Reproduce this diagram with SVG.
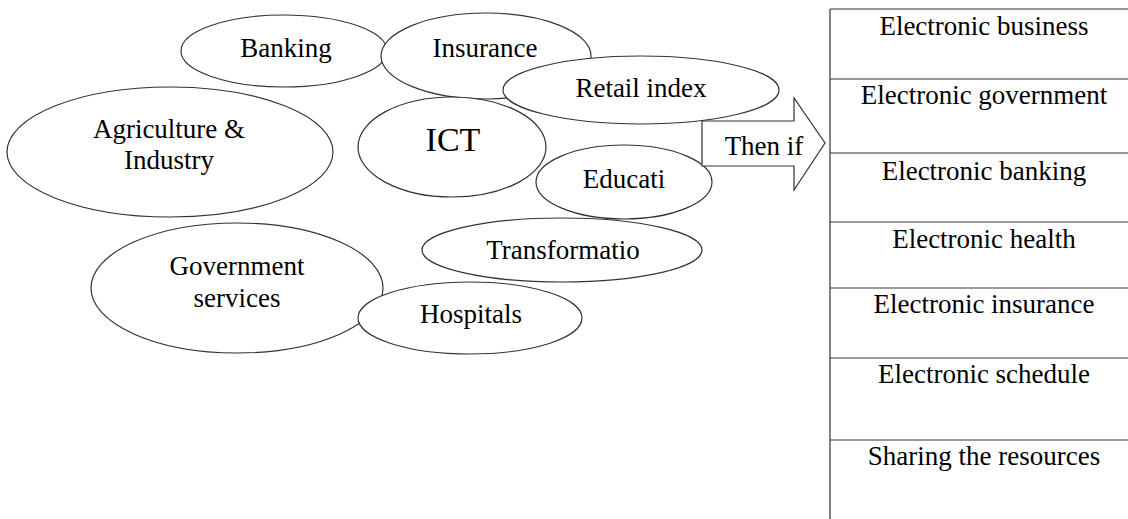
<svg xmlns="http://www.w3.org/2000/svg" width="1128" height="519" viewBox="0 0 1128 519">
<style>
.n{fill:#fff;stroke:#333;stroke-width:1.2}
.t{font-family:'Liberation Serif','Times New Roman',serif;font-size:27px;fill:#000;text-anchor:middle}
.big{font-size:34px}
.l{stroke:#333;stroke-width:1.2;fill:none}
</style>
<rect width="1128" height="519" fill="#fff"/>
<g id="banking"><ellipse class="n" cx="284" cy="51" rx="103" ry="36"/><text class="t" x="286" y="57">Banking</text></g>
<g id="insurance"><ellipse class="n" cx="486" cy="56" rx="105" ry="43"/><text class="t" x="485" y="57">Insurance</text></g>
<g id="retail"><ellipse class="n" cx="641" cy="90" rx="138" ry="34"/><text class="t" x="641" y="97">Retail index</text></g>
<g id="agriculture"><ellipse class="n" cx="170" cy="152" rx="163" ry="65"/><text class="t" x="169" y="138">Agriculture &amp;</text><text class="t" x="169" y="169">Industry</text></g>
<g id="ict"><ellipse class="n" cx="452" cy="147" rx="94" ry="50"/><text class="t big" x="453" y="151">ICT</text></g>
<g id="education"><ellipse class="n" cx="624" cy="182" rx="88" ry="37"/><text class="t" x="624" y="188">Educati</text></g>
<g id="arrow"><path class="n" d="M702,121 H794 V98 L825,143 L794,190 V166 H702 Z"/><text class="t" x="764" y="155">Then if</text></g>
<g id="transformation"><ellipse class="n" cx="562" cy="250" rx="140" ry="32"/><text class="t" x="563" y="259">Transformatio</text></g>
<g id="government"><ellipse class="n" cx="237" cy="288" rx="146" ry="65"/><text class="t" x="237" y="275">Government</text><text class="t" x="237" y="307">services</text></g>
<g id="hospitals"><ellipse class="n" cx="470" cy="318" rx="112" ry="36"/><text class="t" x="471" y="323">Hospitals</text></g>
<g id="table">
<path class="l" d="M830,9 H1140 M830,9 V519 M830,79 H1140 M830,153 H1140 M830,222 H1140 M830,288 H1140 M830,358 H1140 M830,440 H1140"/>
<text class="t" x="984" y="35">Electronic business</text>
<text class="t" x="984" y="104">Electronic government</text>
<text class="t" x="984" y="180">Electronic banking</text>
<text class="t" x="984" y="248">Electronic health</text>
<text class="t" x="984" y="313">Electronic insurance</text>
<text class="t" x="984" y="383">Electronic schedule</text>
<text class="t" x="984" y="465">Sharing the resources</text>
</g>
<g id="connectors"></g>
</svg>
